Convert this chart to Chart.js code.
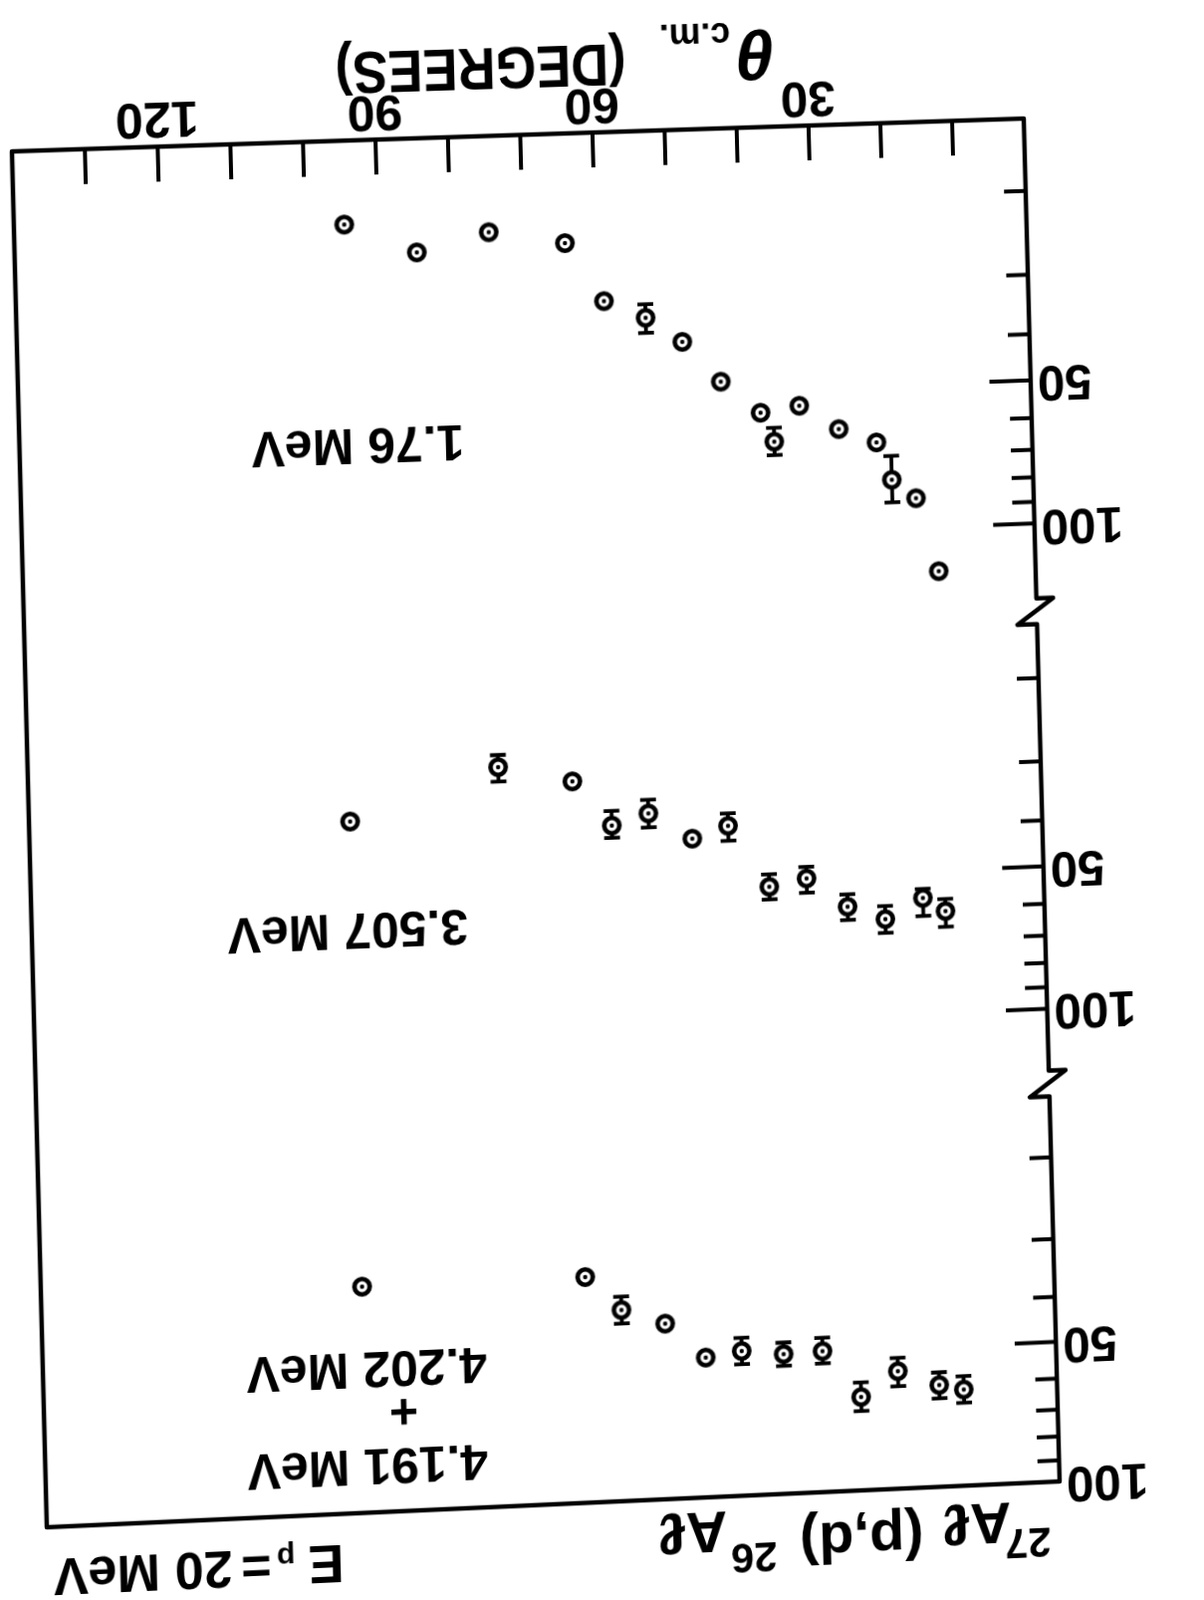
<!DOCTYPE html>
<html>
<head>
<meta charset="utf-8">
<script src="https://cdn.jsdelivr.net/npm/chart.js@4.4.0/dist/chart.umd.min.js"></script>
<style>
  html, body { margin: 0; padding: 0; background: #fff; overflow: hidden; }
  #sheet { position: absolute; left: 0; top: 0; width: 1209px; height: 1606px; transform-origin: 0 0; }
</style>
</head>
<body>
<div id="sheet"><canvas id="chart" width="1209" height="1606"></canvas></div>
<script>
// 27Al(p,d)26Al angular distributions at Ep = 20 MeV

const thetaTicks = [10, 20, 30, 40, 50, 60, 70, 80, 90, 100, 110, 120, 130];
const thetaLabels = [30, 60, 90, 120];
const sigmaTicks = [20, 30, 40, 50, 60, 70, 80, 90, 100];
const sigmaLabels = [50, 100];

// 1.76 MeV
const theta176 = [94.6, 84.7, 74.7, 64.2, 59.0, 53.3, 48.3, 43.1, 37.7, 35.9, 32.3, 26.9, 21.7, 19.7, 16.4, 13.5];
const sigma176 = [21.1, 24.4, 22.4, 23.9, 31.8, 34.7, 39.2, 47.8, 55.9, 64.4, 54.4, 61.3, 65.8, 79.0, 86.7, 123.8];
const errLo176 = [null, null, null, null, null, 32.5, null, null, null, 60.2, null, null, null, 70.4, null, null];
const errHi176 = [null, null, null, null, null, 37.3, null, null, null, 68.7, null, null, null, 88.1, null, null];

// 3.507 MeV
const theta3507 = [95.9, 75.3, 65.1, 59.8, 54.7, 48.7, 43.7, 38.2, 33.0, 27.4, 22.2, 16.9, 13.8];
const sigma3507 = [35.3, 27.9, 30.3, 37.8, 35.9, 40.9, 38.7, 52.4, 50.7, 58.6, 62.7, 57.0, 61.0];
const errLo3507 = [null, 26.3, null, 35.2, 33.6, null, 36.4, 49.3, 47.9, 55.2, 58.8, 54.5, 57.5];
const errHi3507 = [null, 29.9, null, 40.1, 38.4, null, 41.6, 55.7, 54.3, 62.5, 67.0, 62.2, 65.8];

// 4.191 + 4.202 MeV
const theta4191 = [95.9, 65.1, 60.2, 54.2, 48.7, 43.7, 37.9, 32.5, 27.3, 22.1, 16.4, 13.0];
const sigma4191 = [32.8, 32.8, 38.9, 42.0, 50.1, 48.9, 50.1, 49.8, 63.0, 55.9, 60.4, 62.1];
const errLo4191 = [null, null, 36.4, null, null, 45.8, 47.3, 46.6, 58.6, 52.3, 56.7, 58.1];
const errHi4191 = [null, null, 41.6, null, null, 52.2, 53.1, 52.9, 67.5, 60.2, 64.5, 66.3];

const FONT = '"Liberation Sans", Arial, sans-serif';
Chart.defaults.font.family = FONT;
Chart.defaults.color = '#000';

// The scan is printed upside down and a little warped: map the plot box
// corners on the canvas onto where they sit on the sheet.
const boxCanvas = [[162, 1473], [1184, 1473], [162, 100], [1184, 100]];
const boxSheet = [[1028, 119], [12, 152], [1064, 1487], [47, 1533]];

function homography(src, dst) {
  const A = [], b = [];
  for (let i = 0; i < 4; i++) {
    const [X, Y] = src[i], [x, y] = dst[i];
    A.push([X, Y, 1, 0, 0, 0, -X * x, -Y * x]); b.push(x);
    A.push([0, 0, 0, X, Y, 1, -X * y, -Y * y]); b.push(y);
  }
  for (let c = 0; c < 8; c++) {
    let p = c;
    for (let r = c + 1; r < 8; r++) if (Math.abs(A[r][c]) > Math.abs(A[p][c])) p = r;
    [A[c], A[p]] = [A[p], A[c]];
    [b[c], b[p]] = [b[p], b[c]];
    for (let r = 0; r < 8; r++) {
      if (r === c) continue;
      const f = A[r][c] / A[c][c];
      for (let k = c; k < 8; k++) A[r][k] -= f * A[c][k];
      b[r] -= f * b[c];
    }
  }
  const h = b.map((v, i) => v / A[i][i]);
  return [h[0], h[1], h[2], h[3], h[4], h[5], h[6], h[7], 1];
}

function invert3(m) {
  const [a, b, c, d, e, f, g, h, i] = m;
  const A = e * i - f * h, B = -(d * i - f * g), C = d * h - e * g;
  const D = -(b * i - c * h), E = a * i - c * g, F = -(a * h - b * g);
  const G = b * f - c * e, H = -(a * f - c * d), I = a * e - b * d;
  const det = a * A + b * B + c * C;
  return [A / det, D / det, G / det, B / det, E / det, H / det, C / det, F / det, I / det];
}

function apply(m, x, y) {
  const w = m[6] * x + m[7] * y + m[8];
  return [(m[0] * x + m[1] * y + m[2]) / w, (m[3] * x + m[4] * y + m[5]) / w];
}

const H = homography(boxCanvas, boxSheet);
const Hinv = invert3(H);
document.getElementById('sheet').style.transform =
  'matrix3d(' + [H[0], H[3], 0, H[6], H[1], H[4], 0, H[7], 0, 0, 1, 0, H[2], H[5], 0, H[8]].join(',') + ')';

// dotted-circle marker
function ringMarker() {
  const c = document.createElement('canvas');
  c.width = 26; c.height = 26;
  const g = c.getContext('2d');
  g.beginPath(); g.arc(13, 13, 7.7, 0, Math.PI * 2);
  g.fillStyle = '#fff'; g.fill();
  g.lineWidth = 4.6; g.strokeStyle = '#000'; g.stroke();
  g.beginPath(); g.arc(13, 13, 2.2, 0, Math.PI * 2);
  g.fillStyle = '#000'; g.fill();
  return c;
}
const marker = ringMarker();

function series(label, thetas, sigmas, lo, hi, axis) {
  return {
    label,
    data: thetas.map((t, i) => ({ x: t, y: sigmas[i] })),
    errLo: lo,
    errHi: hi,
    yAxisID: axis,
    pointStyle: marker,
    pointRadius: 10,
    showLine: false
  };
}

function sigmaAxis(min, max, weight) {
  return {
    type: 'logarithmic',
    position: 'left',
    stack: 'sigma',
    stackWeight: weight,
    min: min,
    max: max,
    grid: { display: false, drawTicks: false },
    border: { display: false },
    afterBuildTicks: s => {
      s.ticks = sigmaTicks.filter(v => v >= s.min && v <= s.max).map(v => ({ value: v }));
    },
    afterFit: s => { s.width = 162; },
    ticks: {
      autoSkip: false,
      padding: 7,
      font: { size: 50, weight: 'bold' },
      callback: v => sigmaLabels.includes(v) ? String(v) : ''
    }
  };
}

const errorBars = {
  id: 'errorBars',
  beforeDatasetsDraw(chart) {
    const ctx = chart.ctx;
    ctx.save();
    ctx.strokeStyle = '#000';
    ctx.lineWidth = 3.8;
    chart.data.datasets.forEach((ds, i) => {
      const meta = chart.getDatasetMeta(i);
      const ys = chart.scales[ds.yAxisID];
      meta.data.forEach((pt, j) => {
        if (ds.errLo[j] == null) return;
        const y0 = ys.getPixelForValue(ds.errLo[j]);
        const y1 = ys.getPixelForValue(ds.errHi[j]);
        ctx.beginPath();
        ctx.moveTo(pt.x, y0); ctx.lineTo(pt.x, y1);
        ctx.moveTo(pt.x - 8, y0); ctx.lineTo(pt.x + 8, y0);
        ctx.moveTo(pt.x - 8, y1); ctx.lineTo(pt.x + 8, y1);
        ctx.stroke();
      });
    });
    ctx.restore();
  }
};

// box, inward tick marks and the broken ordinate
const frame = {
  id: 'frame',
  afterDatasetsDraw(chart) {
    const { ctx, chartArea: a, scales } = chart;
    ctx.save();
    ctx.strokeStyle = '#000';
    ctx.lineJoin = 'round';
    ctx.lineCap = 'round';
    ctx.lineWidth = 4.5;
    ctx.beginPath();
    ctx.moveTo(a.left, a.top);
    ctx.lineTo(a.right, a.top);
    ctx.lineTo(a.right, a.bottom);
    ctx.lineTo(a.left, a.bottom);
    [scales.y3507.bottom, scales.y4191.bottom].forEach(b => {
      ctx.lineTo(a.left, b + 13);
      ctx.lineTo(a.left - 17, b + 13);
      ctx.lineTo(a.left + 20, b - 13);
      ctx.lineTo(a.left, b - 13);
    });
    ctx.lineTo(a.left, a.top);
    ctx.stroke();

    ctx.lineWidth = 4;
    ctx.lineCap = 'butt';
    ctx.beginPath();
    thetaTicks.forEach(t => {
      const x = scales.x.getPixelForValue(t);
      ctx.moveTo(x, a.bottom);
      ctx.lineTo(x, a.bottom - 35);
    });
    ['y176', 'y3507', 'y4191'].forEach(id => {
      const s = scales[id];
      sigmaTicks.forEach(v => {
        if (v < s.min || v > s.max) return;
        const y = s.getPixelForValue(v);
        ctx.moveTo(a.left, y);
        ctx.lineTo(a.left + (sigmaLabels.includes(v) ? 42 : 22), y);
      });
    });
    ctx.stroke();
    ctx.restore();
  }
};

// free text, anchored by where it sits on the sheet
const annotations = {
  id: 'annotations',
  afterDraw(chart) {
    const ctx = chart.ctx;
    ctx.save();
    ctx.fillStyle = '#000';
    const put = (text, sx, sy, size, align, style, squeeze) => {
      const [x, y] = apply(Hinv, sx, sy);
      ctx.save();
      ctx.translate(x, y);
      ctx.scale(squeeze || 1, 1);
      ctx.font = (style || 'bold') + ' ' + size + 'px ' + FONT;
      ctx.textAlign = align || 'left';
      ctx.textBaseline = 'alphabetic';
      ctx.fillText(text, 0, 0);
      ctx.restore();
    };
    put('1.76 MeV', 359, 430, 50, 'center');
    put('3.507 MeV', 349, 917, 50, 'center');
    put('4.202 MeV', 368, 1358, 50, 'center');
    put('+', 405, 1400, 50, 'center');
    put('4.191 MeV', 369, 1455, 50, 'center');

    put('27', 1055, 1533, 42);
    put('A\u2113', 1015, 1508, 58);
    put('(p,d)', 927, 1524, 58);
    put('26', 780, 1548, 42);
    put('A\u2113', 730, 1517, 58);

    put('E', 345, 1551, 54);
    put('p', 296, 1553, 30);
    put('=', 272, 1554, 52);
    put('20 MeV', 233, 1557, 52);

    put('\u03b8', 778, 29, 70, 'left', 'italic bold');
    put('c.m.', 733, 23, 36);
    put('(DEGREES)', 628, 44, 60, 'left', 'bold', 0.88);
    ctx.restore();
  }
};

new Chart(document.getElementById('chart'), {
  type: 'scatter',
  data: {
    datasets: [
      series('1.76 MeV', theta176, sigma176, errLo176, errHi176, 'y176'),
      series('3.507 MeV', theta3507, sigma3507, errLo3507, errHi3507, 'y3507'),
      series('4.191 + 4.202 MeV', theta4191, sigma4191, errLo4191, errHi4191, 'y4191')
    ]
  },
  options: {
    responsive: false,
    animation: false,
    events: [],
    layout: { padding: { top: 100, right: 25, bottom: 0, left: 0 } },
    plugins: { legend: { display: false }, tooltip: { enabled: false } },
    scales: {
      x: {
        type: 'linear',
        min: 0,
        max: 140,
        grid: { display: false, drawTicks: false },
        border: { display: false },
        afterBuildTicks: s => { s.ticks = thetaLabels.map(v => ({ value: v })); },
        afterFit: s => { s.height = 133; },
        ticks: { autoSkip: false, maxRotation: 0, minRotation: 0, padding: 0, font: { size: 50, weight: 'bold' } }
      },
      y176: sigmaAxis(14.09, 152.9, 495),
      y3507: sigmaAxis(14.45, 143.9, 474),
      y4191: sigmaAxis(13.87, 100, 399)
    }
  },
  plugins: [errorBars, frame, annotations]
});
</script>
</body>
</html>
